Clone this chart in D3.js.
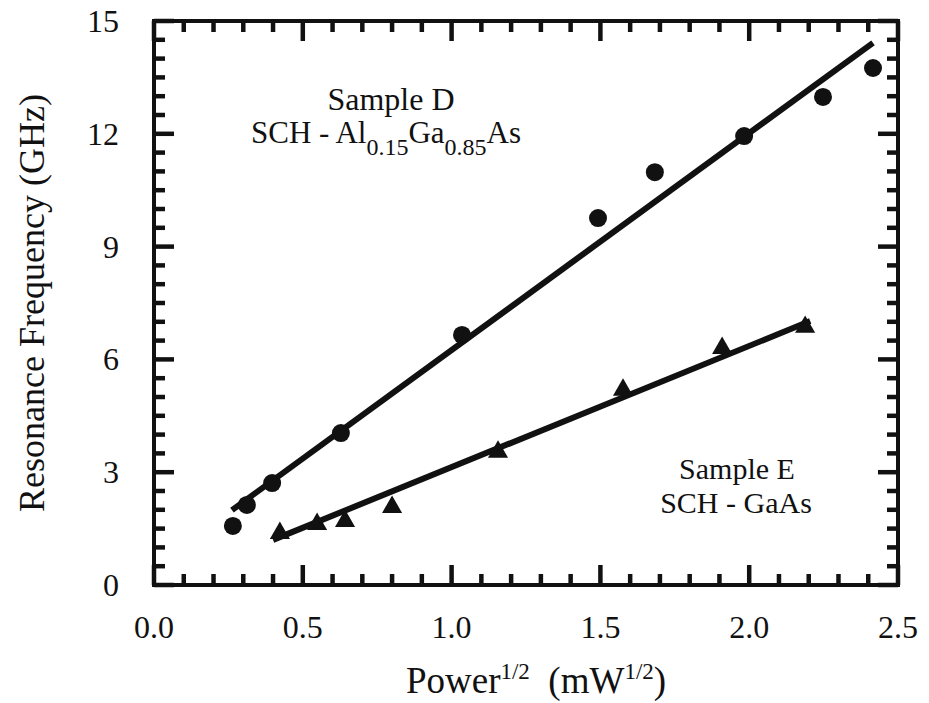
<!DOCTYPE html>
<html>
<head>
<meta charset="utf-8">
<script src="https://cdn.jsdelivr.net/npm/d3@7/dist/d3.min.js"></script>
<style>
  html, body { margin: 0; padding: 0; background: #fff; }
  svg { display: block; }
  text { font-family: "Liberation Serif", "Times New Roman", serif; fill: #111; }
</style>
</head>
<body>
<svg id="chart" width="929" height="703"></svg>
<script>
// Sample D: SCH - Al0.15Ga0.85As (circles)
const sampleD_x = [0.265, 0.312, 0.397, 0.628, 1.035, 1.492, 1.683, 1.983, 2.248, 2.416];
const sampleD_y = [1.57, 2.13, 2.71, 4.04, 6.65, 9.76, 10.98, 11.94, 12.98, 13.75];
// Sample E: SCH - GaAs (triangles)
const sampleE_x = [0.423, 0.548, 0.642, 0.80, 1.156, 1.576, 1.909, 2.188];
const sampleE_y = [1.38, 1.62, 1.70, 2.07, 3.54, 5.19, 6.30, 6.86];
// Linear fit end points
const fitD = [[0.262, 1.99], [2.416, 14.42]];
const fitE = [[0.40, 1.20], [2.205, 7.02]];
// Axis ticks
const xMajorTicks = [0.0, 0.5, 1.0, 1.5, 2.0, 2.5];
const yMajorTicks = [0, 3, 6, 9, 12, 15];

const svg = d3.select("#chart");
const plotLeft = 154, plotRight = 898, plotTop = 21, plotBottom = 585;

const x = d3.scaleLinear().domain([0, 2.5]).range([plotLeft, plotRight]);
const y = d3.scaleLinear().domain([0, 15]).range([plotBottom, plotTop]);

const xMinor = d3.range(0, 26).map(i => i / 10);
const yMinor = d3.range(0, 31).map(i => i / 2);
const isMajor = (v, step) => Math.abs(v / step - Math.round(v / step)) < 1e-6;

const minorLen = 11, majorLen = 20, tickW = 4.5;
const xLen = d => isMajor(d, 0.5) ? majorLen : minorLen;
const yLen = d => isMajor(d, 3) ? majorLen : minorLen;

// Tick labels
svg.append("g").selectAll("text.xl").data(xMajorTicks).join("text").attr("class", "xl")
  .attr("x", d => x(d)).attr("y", 638)
  .attr("text-anchor", "middle").attr("font-size", 32)
  .text(d3.format(".1f"));
svg.append("g").selectAll("text.yl").data(yMajorTicks).join("text").attr("class", "yl")
  .attr("x", 119).attr("y", d => y(d) + 11)
  .attr("text-anchor", "end").attr("font-size", 32)
  .text(d3.format("d"));

// Fit lines
const line = d3.line().x(d => x(d[0])).y(d => y(d[1]));
[fitD, fitE].forEach(f => {
  svg.append("path").attr("d", line(f))
    .attr("fill", "none").attr("stroke", "#111").attr("stroke-width", 6)
    .attr("stroke-linecap", "butt");
});

// Sample D markers
svg.append("g").selectAll("circle")
  .data(sampleD_x.map((v, i) => [v, sampleD_y[i]]))
  .join("circle")
  .attr("cx", d => x(d[0])).attr("cy", d => y(d[1]))
  .attr("r", 9).attr("fill", "#111");

// Sample E markers
const tri = d3.symbol().type(d3.symbolTriangle).size(175);
svg.append("g").selectAll("path")
  .data(sampleE_x.map((v, i) => [v, sampleE_y[i]]))
  .join("path")
  .attr("d", tri)
  .attr("transform", d => `translate(${x(d[0])},${y(d[1])})`)
  .attr("fill", "#111");

// Axis titles
svg.append("text")
  .attr("transform", "translate(44,303) rotate(-90)")
  .attr("text-anchor", "middle")
  .attr("font-size", 36)
  .text("Resonance Frequency (GHz)");

const xt = svg.append("text")
  .attr("x", 536).attr("y", 693)
  .attr("text-anchor", "middle")
  .attr("font-size", 37);
xt.append("tspan").text("Power");
xt.append("tspan").attr("dy", -14).attr("font-size", 23).text("1/2");
xt.append("tspan").attr("dy", 14).text("\u00a0\u00a0(mW");
xt.append("tspan").attr("dy", -14).attr("font-size", 23).text("1/2");
xt.append("tspan").attr("dy", 14).text(")");

// Sample annotations
svg.append("text")
  .attr("x", 391).attr("y", 110)
  .attr("text-anchor", "middle").attr("font-size", 32)
  .text("Sample D");
const sd = svg.append("text")
  .attr("x", 386).attr("y", 143)
  .attr("text-anchor", "middle").attr("font-size", 31);
sd.append("tspan").text("SCH - Al");
sd.append("tspan").attr("dy", 12).attr("font-size", 24).text("0.15");
sd.append("tspan").attr("dy", -12).text("Ga");
sd.append("tspan").attr("dy", 12).attr("font-size", 24).text("0.85");
sd.append("tspan").attr("dy", -12).text("As");

svg.append("text")
  .attr("x", 737).attr("y", 479)
  .attr("text-anchor", "middle").attr("font-size", 30)
  .text("Sample E");
svg.append("text")
  .attr("x", 736).attr("y", 513)
  .attr("text-anchor", "middle").attr("font-size", 30)
  .text("SCH - GaAs");

// Frame, drawn last with its inward ticks on top
svg.append("rect")
  .attr("x", plotLeft).attr("y", plotTop)
  .attr("width", plotRight - plotLeft).attr("height", plotBottom - plotTop)
  .attr("fill", "none").attr("stroke", "#111").attr("stroke-width", 4);

const tickG = svg.append("g").attr("stroke", "#111").attr("stroke-width", tickW)
  .attr("stroke-linecap", "butt");
xMinor.forEach(d => {
  tickG.append("line").attr("x1", x(d)).attr("x2", x(d))
    .attr("y1", plotBottom).attr("y2", plotBottom - xLen(d));
  tickG.append("line").attr("x1", x(d)).attr("x2", x(d))
    .attr("y1", plotTop).attr("y2", plotTop + xLen(d));
});
yMinor.forEach(d => {
  tickG.append("line").attr("y1", y(d)).attr("y2", y(d))
    .attr("x1", plotLeft).attr("x2", plotLeft + yLen(d));
  tickG.append("line").attr("y1", y(d)).attr("y2", y(d))
    .attr("x1", plotRight).attr("x2", plotRight - yLen(d));
});
</script>
</body>
</html>
